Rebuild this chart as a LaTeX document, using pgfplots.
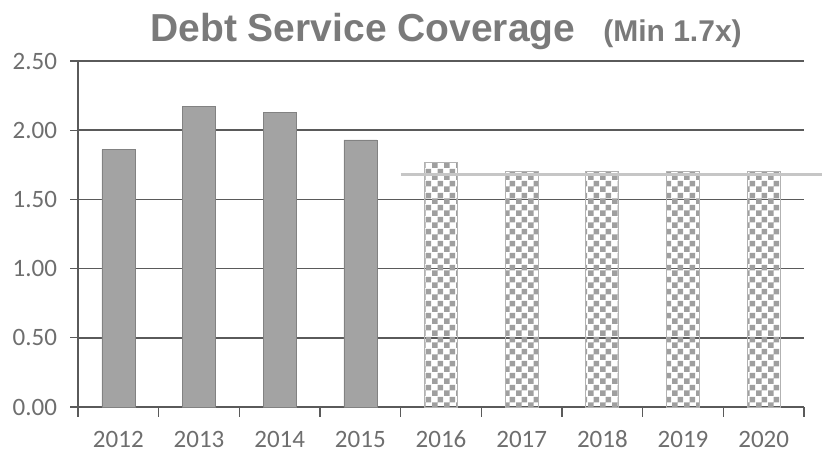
\documentclass[border=0pt]{standalone}
\usepackage{pgfplots}
\pgfplotsset{compat=1.18}
\usepackage{fontspec}
\setmainfont{Carlito}
\newfontfamily\titlefont{Liberation Sans}
\usetikzlibrary{patterns}
\definecolor{txt}{HTML}{6E6E6E}
\definecolor{ttl}{HTML}{7A7A7A}
\definecolor{barg}{HTML}{A3A3A3}
\definecolor{gridc}{HTML}{5A5A5A}
\pgfdeclarepatternformonly{mycheck}{\pgfpointorigin}{\pgfpoint{6pt}{6pt}}{\pgfpoint{6pt}{6pt}}{%
  \pgfpathrectangle{\pgfpointorigin}{\pgfpoint{3pt}{3pt}}%
  \pgfpathrectangle{\pgfpoint{3pt}{3pt}}{\pgfpoint{3pt}{3pt}}%
  \pgfusepath{fill}}
\begin{document}
\begin{tikzpicture}
\begin{axis}[
  name=a,
  scale only axis, width=363pt, height=173pt,
  xmin=-0.5, xmax=8.5, ymin=0, ymax=2.5,
  ybar, bar width=16.5pt, bar shift=0pt,
  axis x line*=bottom, axis y line*=left,
  axis line style={gridc, line width=0.6pt},
  xtick={0,...,8},
  xticklabels={2012,2013,2014,2015,2016,2017,2018,2019,2020},
  minor xtick={-0.5,0.5,...,8.5},
  major x tick style={draw=none},
  minor x tick style={gridc, line width=0.6pt},
  minor tick length=5pt,
  ytick={0,0.5,...,2.5},
  y tick style={gridc, line width=0.6pt},
  major tick length=4pt,
  tick align=outside,
  ymajorgrids, grid style={gridc, line width=0.8pt},
  ticklabel style={font=\fontsize{12.5}{14}\selectfont, text=txt},
  xticklabel style={yshift=-5pt, text height=1.6ex, text depth=0pt},
  yticklabel style={xshift=-3pt, /pgf/number format/.cd, fixed, fixed zerofill, precision=2, assume math mode=true},
  clip=false,
]
\addplot[fill=barg, draw=barg!80!black, line width=0.3pt] coordinates {(0,1.86) (1,2.17) (2,2.13) (3,1.93)};
\addplot[pattern=mycheck, pattern color=gray!75, draw=gray!60, line width=0.4pt] coordinates {(4,1.77) (5,1.70) (6,1.70) (7,1.70) (8,1.70)};
\addplot[sharp plot, gray!45, line width=1.8pt, forget plot] coordinates {(3.5,1.68) (8.78,1.68)};
\node[anchor=base, text=ttl, font=\titlefont\bfseries, yshift=9.5pt] at (rel axis cs:0.507,1)
  {{\fontsize{19.5}{22}\selectfont Debt Service Coverage}\hspace{14pt}{\fontsize{15}{17}\selectfont (Min 1.7x)}};
\end{axis}
\pgfresetboundingbox
\path ([xshift=-39pt,yshift=-24.5pt]a.south west) rectangle ([xshift=9pt,yshift=30.5pt]a.north east);
\end{tikzpicture}
\end{document}
